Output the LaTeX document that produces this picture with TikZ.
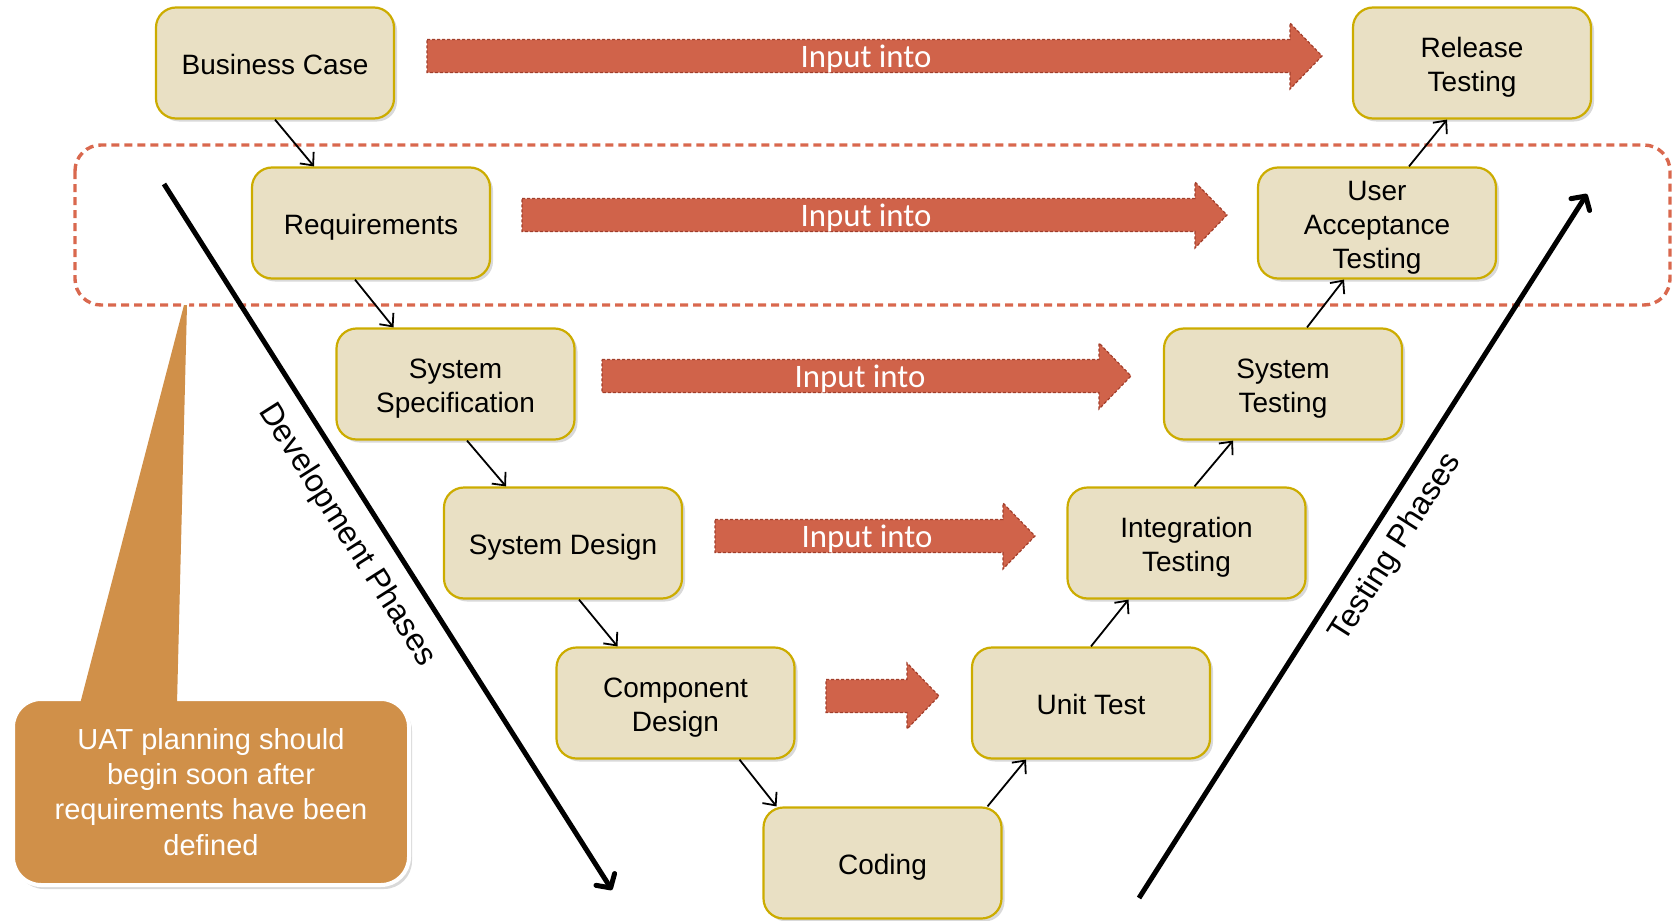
\documentclass[tikz,border=0pt]{standalone}
\usepackage{fontspec}
\setmainfont{Liberation Sans}
\newfontfamily\calibri{Carlito}
\usetikzlibrary{arrows.meta, shadows}

\definecolor{boxfill}{HTML}{E9E0C4}
\definecolor{boxline}{HTML}{CCAC00}
\definecolor{arrowfill}{HTML}{D0634A}
\definecolor{arrowedge}{HTML}{A23E2B}
\definecolor{bandline}{HTML}{D9684E}
\definecolor{notefill}{HTML}{D09049}

\begin{document}
\begin{tikzpicture}[x=0.5pt, y=-0.5pt,
	box/.style={draw=boxline, line width=1.1pt, fill=boxfill, rounded corners=10pt,
		minimum width=119pt, minimum height=55.5pt, inner ysep=1pt, align=center,
		font=\fontsize{14}{17}\selectfont, text height=14.5pt, text depth=3pt,
		drop shadow={shadow xshift=1.5pt, shadow yshift=-1.5pt, opacity=0.3}},
	twoline/.style={text height=31.5pt},
	threeline/.style={text height=48.5pt},
	conn/.style={line width=0.9pt, -{Straight Barb[length=5pt, width=9pt]}},
	inarrow/.style={fill=arrowfill, draw=arrowedge, line width=0.6pt, dash pattern=on 1.5pt off 1pt},
	inlabel/.style={text=white, font=\calibri\fontsize{16.4}{18}\selectfont},
	uatband/.style={draw=bandline, line width=1.7pt, dash pattern=on 4pt off 2.5pt, rounded corners=13pt},
	phase/.style={line width=2.5pt, -{Straight Barb[length=5pt, width=11pt, round]}},
	phaselabel/.style={font=\fontsize{16}{18}\selectfont},
	note/.style={fill=notefill, draw=white, line width=2pt, rounded corners=14pt,
		minimum width=198pt, minimum height=93pt, text=white, align=center,
		font=\fontsize{14.5}{17.6}\selectfont,
		drop shadow={shadow xshift=1.5pt, shadow yshift=-2pt, opacity=0.3}}]
	%\draw[help lines] (0,0) grid (1677,921);
	\useasboundingbox (0, 0) rectangle (1677, 921);
	
	\draw [uatband] (75, 145) rectangle (1670, 305);
	
	% callout
	\filldraw [fill=notefill, draw=white, line width=2pt] (80, 698) -- (184, 305) -- (187, 305) -- (177, 698) -- cycle;
	\node [note] (uatnote) at (211, 792) {UAT planning should\\begin soon after\\requirements have been\\defined};
	\fill [notefill] (80, 704) -- (184, 305) -- (187, 305) -- (177, 704) -- cycle;
	
	\node [box] (bc) at (275, 63) {Business Case};
	\node [box] (req) at (371, 223) {Requirements};
	\node [box, twoline] (spec) at (455.5, 384) {System\\Specification};
	\node [box] (des) at (563, 543) {System Design};
	\node [box, twoline] (comp) at (675.5, 703) {Component\\Design};
	\node [box] (cod) at (882.5, 863) {Coding};
	\node [box] (unit) at (1091, 703) {Unit Test};
	\node [box, twoline] (integ) at (1186.5, 543) {Integration\\Testing};
	\node [box, twoline] (systest) at (1283, 384) {System\\Testing};
	\node [box, threeline] (uat) at (1377, 223) {User\\Acceptance\\Testing};
	\node [box, twoline] (rel) at (1472, 63) {Release\\Testing};
	
	\draw [conn] (bc.south) -- ([xshift=-28.5pt]req.north);
	\draw [conn] ([xshift=-8pt]req.south) -- ([xshift=-31pt]spec.north);
	\draw [conn] ([xshift=5.75pt]spec.south) -- ([xshift=-28.5pt]des.north);
	\draw [conn] ([xshift=8pt]des.south) -- ([xshift=-29pt]comp.north);
	\draw [conn] ([xshift=32pt]comp.south) -- ([xshift=-53pt]cod.north);
	\draw [conn] ([xshift=52.5pt]cod.north) -- ([xshift=-32.5pt]unit.south);
	\draw [conn] (unit.north) -- ([xshift=-29pt]integ.south);
	\draw [conn] ([xshift=4pt]integ.north) -- ([xshift=-25pt]systest.south);
	\draw [conn] ([xshift=12pt]systest.north) -- ([xshift=-16.5pt]uat.south);
	\draw [conn] ([xshift=16pt]uat.north) -- ([xshift=-12.5pt]rel.south);
	
	% input arrows
	\foreach \xa/\xb/\yc/\xt in {427/1322/56/866, 522/1227/215/866, 602/1131/376/860, 715/1035/536/867}
	{
		\draw [inarrow] (\xa, \yc-16.5) -- (\xb-32, \yc-16.5) -- (\xb-32, \yc-33) -- (\xb, \yc)
			-- (\xb-32, \yc+33) -- (\xb-32, \yc+16.5) -- (\xa, \yc+16.5) -- cycle;
		\node [inlabel] (input\yc) at (\xt, \yc+3) {Input into};
	}
	\draw [inarrow] (826, 679.5) -- (907, 679.5) -- (907, 663) -- (939, 696)
		-- (907, 729) -- (907, 712.5) -- (826, 712.5) -- cycle;
	
	% phases
	\coordinate (devstart) at (164, 184);
	\coordinate (devend) at (612, 890);
	\coordinate (teststart) at (1139, 898);
	\coordinate (testend) at (1587, 194);
	\draw [phase] (devstart) -- (devend);
	\draw [phase] (teststart) -- (testend);
	\node [phaselabel, rotate=-57.6] (devlabel) at (347, 535) {Development Phases};
	\node [phaselabel, rotate=57.5] (testlabel) at (1396, 548) {Testing Phases};
\end{tikzpicture}
\end{document}
